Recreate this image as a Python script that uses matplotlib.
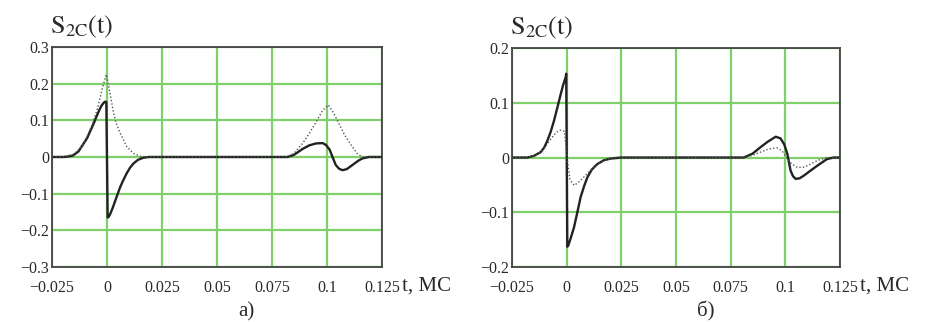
import matplotlib
matplotlib.use("Agg")
import matplotlib.pyplot as plt

plt.rcParams['font.family'] = ['Liberation Serif', 'DejaVu Serif']
plt.rcParams['mathtext.fontset'] = 'stix'

# ---- data ----
# panel a) solid line
ta_solid = [-0.025, -0.02, -0.018, -0.0155, -0.013, -0.0108, -0.009, -0.0078, -0.006, -0.0048,
            -0.0035, -0.0025, -0.0015, -0.0008, -0.0003,
            0.0003, 0.0008, 0.0015, 0.0027, 0.004, 0.006, 0.0075, 0.009, 0.0105, 0.012, 0.014,
            0.0165, 0.019,
            0.082, 0.085, 0.0889, 0.092, 0.095, 0.098, 0.0995, 0.1012, 0.1027, 0.104, 0.1055,
            0.107, 0.109, 0.1115, 0.114, 0.116, 0.119, 0.125]
va_solid = [0.0, 0.0, 0.001, 0.004, 0.015, 0.035, 0.052, 0.068, 0.092, 0.11,
            0.128, 0.14, 0.148, 0.151, 0.15,
            -0.165, -0.163, -0.155, -0.137, -0.115, -0.082, -0.062, -0.044, -0.029, -0.018, -0.008,
            -0.002, 0.0,
            0.0, 0.006, 0.022, 0.032, 0.037, 0.038, 0.033, 0.02, -0.003, -0.022, -0.032,
            -0.036, -0.033, -0.022, -0.011, -0.004, 0.0, 0.0]
# panel a) dotted line
ta_dot = [-0.025, -0.02, -0.015, -0.012, -0.01, -0.008, -0.006, -0.004, -0.002, -0.0003,
          0.0012, 0.0027, 0.004, 0.006, 0.009, 0.012, 0.015, 0.018,
          0.0817, 0.085, 0.0889, 0.092, 0.095, 0.098, 0.1006, 0.103, 0.1061, 0.108, 0.1106,
          0.1136, 0.116, 0.125]
va_dot = [0.0, 0.0, 0.008, 0.025, 0.045, 0.07, 0.1, 0.14, 0.19, 0.225,
          0.18, 0.129, 0.095, 0.065, 0.028, 0.01, 0.002, 0.0,
          0.0, 0.01, 0.037, 0.065, 0.095, 0.127, 0.142, 0.12, 0.083, 0.06, 0.036,
          0.01, 0.0, 0.0]

# panel б) solid line
tb_solid = [-0.025, -0.018, -0.015, -0.0119, -0.0103, -0.0088, -0.0073, -0.0058, -0.0042,
            -0.0027, -0.0015, -0.0005, -0.0002,
            0.0003, 0.0008, 0.0018, 0.0034, 0.005, 0.0064, 0.008, 0.0095, 0.0115, 0.014, 0.017,
            0.02, 0.025,
            0.081, 0.085, 0.0887, 0.092, 0.0956, 0.0978, 0.0995, 0.1009, 0.1024, 0.1035, 0.1047,
            0.1065, 0.1085, 0.1115, 0.1146, 0.119, 0.122, 0.125]
vb_solid = [0.0, 0.0, 0.003, 0.0097, 0.018, 0.031, 0.047, 0.067, 0.092,
            0.116, 0.134, 0.146, 0.153,
            -0.163, -0.16, -0.148, -0.127, -0.098, -0.072, -0.052, -0.036, -0.022, -0.012, -0.005,
            -0.002, 0.0,
            0.0, 0.007, 0.019, 0.029, 0.038, 0.035, 0.024, 0.007, -0.024, -0.034, -0.039,
            -0.038, -0.033, -0.024, -0.015, -0.003, 0.0, 0.0]
# panel б) dotted line
tb_dot = [-0.025, -0.018, -0.015, -0.012, -0.01, -0.007, -0.005, -0.003, -0.001, 0.0002,
          0.0015, 0.0034, 0.0055, 0.0078, 0.01, 0.0125, 0.015, 0.018, 0.022,
          0.081, 0.085, 0.0887, 0.092, 0.096, 0.0985, 0.1005, 0.103, 0.1055, 0.108, 0.11,
          0.1125, 0.115, 0.119, 0.125]
vb_dot = [0.0, 0.0, 0.003, 0.01, 0.018, 0.035, 0.045, 0.05, 0.048, 0.0,
          -0.04, -0.051, -0.045, -0.036, -0.027, -0.018, -0.01, -0.004, 0.0,
          0.0, 0.004, 0.01, 0.015, 0.018, 0.012, 0.0, -0.012, -0.018, -0.018, -0.015,
          -0.01, -0.005, 0.0, 0.0]

xticks = [-0.025, 0, 0.025, 0.05, 0.075, 0.1, 0.125]
xticklabels = ['\u22120.025', '0', '0.025', '0.05', '0.075', '0.1', '0.125']
yticks_a = [-0.3, -0.2, -0.1, 0, 0.1, 0.2, 0.3]
yticklabels_a = ['\u22120.3', '\u22120.2', '\u22120.1', '0', '0.1', '0.2', '0.3']
yticks_b = [-0.2, -0.1, 0, 0.1, 0.2]
yticklabels_b = ['\u22120.2', '\u22120.1', '0', '0.1', '0.2']

grid_green = '#7fcf6a'
txt = '#2a2a2a'
fig = plt.figure(figsize=(9.25, 3.22), dpi=100)

panels = [
    ([0.0562, 0.1708, 0.3568, 0.6832], ta_solid, va_solid, ta_dot, va_dot,
     yticks_a, yticklabels_a, 'a)'),
    ([0.5535, 0.1708, 0.3546, 0.680], tb_solid, vb_solid, tb_dot, vb_dot,
     yticks_b, yticklabels_b, '\u0431)'),
]

for rect, ts, vs, td, vd, yt, ytl, cap in panels:
    ax = fig.add_axes(rect)
    ax.plot(ts, vs, color='#222222', lw=1.7, zorder=3)
    ax.plot(td, vd, color='#555555', lw=1.0, ls=(0, (1, 1.5)), zorder=3)
    ax.set_xlim(-0.025, 0.125)
    ax.set_ylim(yt[0], yt[-1])
    ax.set_xticks(xticks)
    ax.set_xticklabels(xticklabels)
    ax.set_yticks(yt)
    ax.set_yticklabels(ytl)
    ax.tick_params(length=0, labelsize=11.5, colors=txt)
    ax.tick_params(axis='x', pad=9)
    ax.tick_params(axis='y', pad=2)
    ax.grid(True, color=grid_green, lw=1.6)
    ax.set_axisbelow(True)
    for s in ax.spines.values():
        s.set_color('#444444')
        s.set_linewidth(1.3)
    ax.text(-0.005, 1.03, r'$\mathrm{S_{2C}(t)}$', transform=ax.transAxes,
            fontsize=19, color=txt, ha='left', va='bottom')
    ax.text(1.06, -0.085, 't, MC', transform=ax.transAxes, fontsize=15,
            color=txt, ha='left', va='center')
    ax.text(0.59, -0.205, cap, transform=ax.transAxes, fontsize=15,
            color=txt, ha='center', va='center')

fig.savefig('out.png', dpi=100)
